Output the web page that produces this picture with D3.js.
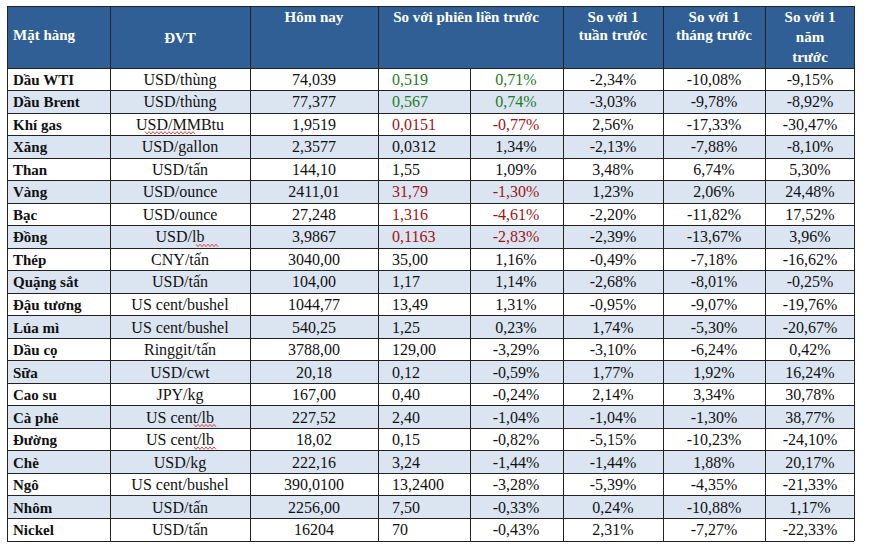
<!DOCTYPE html>
<html lang="vi">
<head>
<meta charset="UTF-8">
<script src="https://cdn.jsdelivr.net/npm/d3@7"></script>
<style>
  body { margin: 0; background: #fff; }
  text { font-family: "Liberation Serif", "DejaVu Serif", serif; }
</style>
</head>
<body>
<svg id="chart" width="879" height="545"></svg>
<script>
// data
const items = ["Dầu WTI","Dầu Brent","Khí gas","Xăng","Than","Vàng","Bạc","Đồng","Thép","Quặng sắt","Đậu tương","Lúa mì","Dầu cọ","Sữa","Cao su","Cà phê","Đường","Chè","Ngô","Nhôm","Nickel"];
const units = ["USD/thùng","USD/thùng","USD/MMBtu","USD/gallon","USD/tấn","USD/ounce","USD/ounce","USD/lb","CNY/tấn","USD/tấn","US cent/bushel","US cent/bushel","Ringgit/tấn","USD/cwt","JPY/kg","US cent/lb","US cent/lb","USD/kg","US cent/bushel","USD/tấn","USD/tấn"];
const today = ["74,039","77,377","1,9519","2,3577","144,10","2411,01","27,248","3,9867","3040,00","104,00","1044,77","540,25","3788,00","20,18","167,00","227,52","18,02","222,16","390,0100","2256,00","16204"];
const prevAbs = ["0,519","0,567","0,0151","0,0312","1,55","31,79","1,316","0,1163","35,00","1,17","13,49","1,25","129,00","0,12","0,40","2,40","0,15","3,24","13,2400","7,50","70"];
const prevPct = ["0,71%","0,74%","-0,77%","1,34%","1,09%","-1,30%","-4,61%","-2,83%","1,16%","1,14%","1,31%","0,23%","-3,29%","-0,59%","-0,24%","-1,04%","-0,82%","-1,44%","-3,28%","-0,33%","-0,43%"];
const weekPct = ["-2,34%","-3,03%","2,56%","-2,13%","3,48%","1,23%","-2,20%","-2,39%","-0,49%","-2,68%","-0,95%","1,74%","-3,10%","1,77%","2,14%","-1,04%","-5,15%","-1,44%","-5,39%","0,24%","2,31%"];
const monthPct = ["-10,08%","-9,78%","-17,33%","-7,88%","6,74%","2,06%","-11,82%","-13,67%","-7,18%","-8,01%","-9,07%","-5,30%","-6,24%","1,92%","3,34%","-1,30%","-10,23%","1,88%","-4,35%","-10,88%","-7,27%"];
const yearPct = ["-9,15%","-8,92%","-30,47%","-8,10%","5,30%","24,48%","17,52%","3,96%","-16,62%","-0,25%","-19,76%","-20,67%","0,42%","16,24%","30,78%","38,77%","-24,10%","20,17%","-21,33%","1,17%","-22,33%"];
const greenRows = ["Dầu WTI","Dầu Brent"];
const redRows = ["Khí gas","Vàng","Bạc","Đồng"];

const svg = d3.select("#chart");
const xEdges = [7,110,250,378,470,563,663,765,854];
const tableTop = 6, headBottom = 68, tableBottom = 541;
const y = d3.scaleBand().domain(items).range([headBottom, tableBottom]);
const blue = "#2f5f95", stripe = "#dbe5f1", green = "#1f7a1f", red = "#9e1414";

// header
svg.append("rect").attr("x", xEdges[0]).attr("y", tableTop).attr("width", xEdges[8]-xEdges[0]).attr("height", headBottom-tableTop).attr("fill", blue);
const hdr = svg.append("g").attr("fill", "#fff").attr("font-weight", "bold").attr("font-size", 15);
function htext(x, yy, s, anchor) { hdr.append("text").attr("x", x).attr("y", yy).attr("text-anchor", anchor || "middle").text(s); }
htext(13, 40, "Mặt hàng", "start");
htext(180, 43, "ĐVT");
htext(314, 22, "Hôm nay");
htext(466, 22, "So với phiên liền trước");
htext(613, 22, "So với 1");
htext(613, 40, "tuần trước");
htext(714, 22, "So với 1");
htext(714, 40, "tháng trước");
htext(810, 22, "So với 1");
htext(810, 42, "năm");
htext(810, 62, "trước");

// rows
const rows = svg.selectAll("g.row").data(items).join("g").attr("class", "row")
  .attr("transform", d => `translate(0,${y(d)})`);
rows.append("rect").attr("x", xEdges[0]).attr("width", xEdges[8]-xEdges[0]).attr("height", y.bandwidth())
  .attr("fill", (d, i) => i % 2 ? stripe : "#fff");

const cols = [
  {vals: items, x: 13, anchor: "start", bold: true},
  {vals: units, x: 180},
  {vals: today, x: 314},
  {vals: prevAbs, x: 392, anchor: "start", colored: true},
  {vals: prevPct, x: 516, colored: true},
  {vals: weekPct, x: 613},
  {vals: monthPct, x: 714},
  {vals: yearPct, x: 810}
];
cols.forEach(c => {
  rows.append("text").attr("x", c.x).attr("y", y.bandwidth()/2 + 5.5)
    .attr("text-anchor", c.anchor || "middle")
    .attr("font-size", c.bold ? 15 : 16)
    .attr("font-weight", c.bold ? "bold" : null)
    .attr("fill", d => !c.colored ? "#111" : greenRows.includes(d) ? green : redRows.includes(d) ? red : "#111")
    .text((d, i) => c.vals[i]);
});

// red squiggles under spell-checked units
const squig = [["Khí gas", 145, 196], ["Đồng", 196, 218], ["Cà phê", 194, 216], ["Đường", 194, 216]];
squig.forEach(([k, x0, x1]) => {
  const yy = y(k) + y.bandwidth() - 3;
  const pts = d3.range(x0, x1 + 0.1, 2).map((x, i) => [x, yy + (i % 2 ? 1.5 : -1)]);
  svg.append("path").attr("d", d3.line()(pts)).attr("fill", "none").attr("stroke", "#e02020").attr("stroke-width", 0.8);
});

// grid lines
const g = svg.append("g").attr("stroke", "#222").attr("stroke-width", 1).attr("shape-rendering", "crispEdges");
xEdges.forEach((x, i) => {
  const y0 = (i === 4) ? headBottom : tableTop;
  g.append("line").attr("x1", x).attr("x2", x).attr("y1", y0).attr("y2", tableBottom);
});
[tableTop, headBottom].concat(items.map(d => y(d) + y.bandwidth())).forEach(yy => {
  g.append("line").attr("x1", xEdges[0]).attr("x2", xEdges[8]).attr("y1", yy).attr("y2", yy);
});
</script>
</body>
</html>
